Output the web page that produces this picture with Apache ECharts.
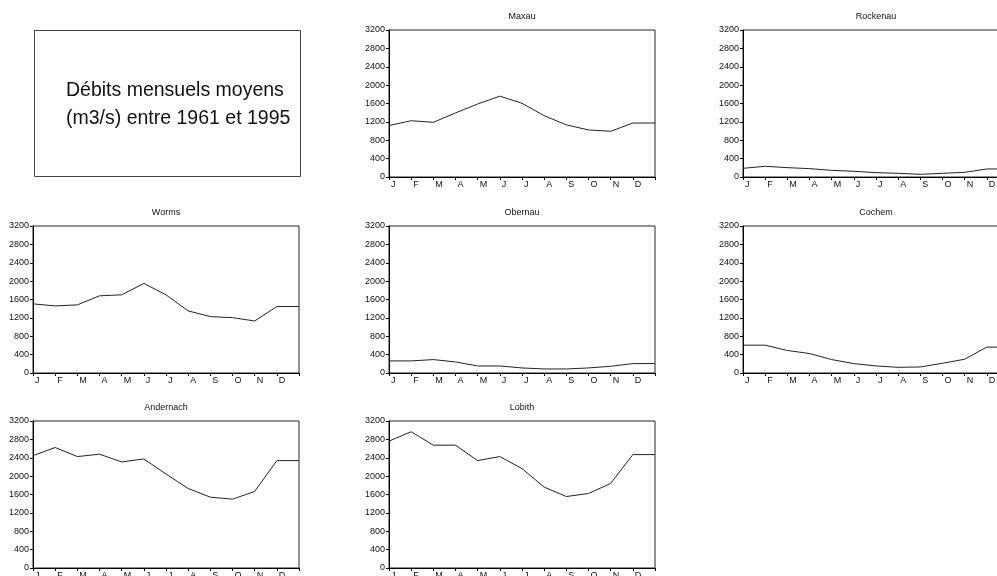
<!DOCTYPE html>
<html><head><meta charset="utf-8">
<script src="https://cdn.jsdelivr.net/npm/echarts@6/dist/echarts.min.js"></script>
<style>html,body{margin:0;padding:0;background:#fff}#c{width:997px;height:576px}</style>
</head><body><div id="c"></div>
<script>
// Tick labels along the month axis (13th position = end of year boundary)
const monthTicks = ['J','F','M','A','M','J','J','A','S','O','N','D',''];
const stations = ['Maxau','Rockenau','Worms','Obernau','Cochem','Andernach','Lobith'];
// Mean monthly discharge (m3/s), Jan..Dec, plus value at the right edge
const maxau     = [1120, 1225, 1190, 1395, 1590, 1760, 1605, 1335, 1135, 1025, 995, 1175, 1175];
const rockenau  = [189, 233, 204, 182, 145, 124, 95, 80, 58, 80, 102, 175, 175];
const worms     = [1505, 1460, 1483, 1680, 1702, 1950, 1702, 1352, 1227, 1205, 1132, 1447, 1447];
const obernau   = [263, 263, 292, 241, 153, 153, 110, 88, 88, 110, 146, 205, 205];
const cochem    = [606, 606, 490, 424, 292, 205, 153, 124, 131, 212, 300, 563, 563];
const andernach = [2447, 2623, 2426, 2477, 2309, 2374, 2046, 1731, 1542, 1498, 1666, 2338, 2338];
const lobith    = [2762, 2966, 2674, 2674, 2338, 2426, 2163, 1761, 1556, 1622, 1841, 2469, 2469];
const seriesData = [maxau, rockenau, worms, obernau, cochem, andernach, lobith];
const yMin = 0, yMax = 3200, yStep = 400;
const titleLines = ['Débits mensuels moyens', '(m3/s) entre 1961 et 1995'];

// layout (positions of each panel)
const layout = [
  [389, 30], [743, 30],
  [33, 226], [389, 226], [743, 226],
  [33, 421], [389, 421]
];
const W = 266, H = 147;
const FONT = '"Liberation Sans", Arial, sans-serif';

const grid = [], xAxis = [], yAxis = [], series = [], graphic = [];
stations.forEach((name, i) => {
  const [l, t] = layout[i];
  grid.push({left: l, top: t, width: W, height: H, show: true, borderColor: '#222', borderWidth: 1,
             backgroundColor: 'transparent', containLabel: false, outerBoundsMode: 'none'});
  xAxis.push({gridIndex: i, type: 'category', data: monthTicks, boundaryGap: false,
    axisLine: {lineStyle: {color: '#000', width: 1}},
    axisTick: {show: true, length: 3, interval: 0, lineStyle: {color: '#000'}},
    axisLabel: {interval: 0, align: 'left', padding: [0, 0, 0, 2], margin: 3, fontSize: 9, color: '#111', fontFamily: FONT},
    splitLine: {show: false}});
  yAxis.push({gridIndex: i, type: 'value', min: yMin, max: yMax, interval: yStep,
    axisLine: {show: true, lineStyle: {color: '#000', width: 1}},
    axisTick: {show: true, length: 3, lineStyle: {color: '#000'}},
    axisLabel: {fontSize: 9, margin: 4, color: '#111', fontFamily: FONT, formatter: v => String(v)},
    splitLine: {show: false}});
  series.push({type: 'line', name: name, xAxisIndex: i, yAxisIndex: i, data: seriesData[i],
    symbol: 'none', lineStyle: {color: '#222', width: 1}, silent: true});
  graphic.push({type: 'text', x: l + W / 2, y: t - 13,
    style: {text: name, align: 'center', verticalAlign: 'middle', font: '9px ' + FONT, fill: '#111'}});
});

graphic.push({type: 'rect', shape: {x: 34.5, y: 30.5, width: 266, height: 146},
  style: {fill: 'none', stroke: '#444', lineWidth: 1}});
titleLines.forEach((s, k) => {
  graphic.push({type: 'text', x: 66, y: 91 + k * 28,
    style: {text: s, align: 'left', verticalAlign: 'middle', font: '19.5px ' + FONT, fill: '#111'}});
});

const chart = echarts.init(document.getElementById('c'), null, {renderer: 'canvas'});
chart.setOption({animation: false, grid, xAxis, yAxis, series, graphic});
</script>
</body></html>
